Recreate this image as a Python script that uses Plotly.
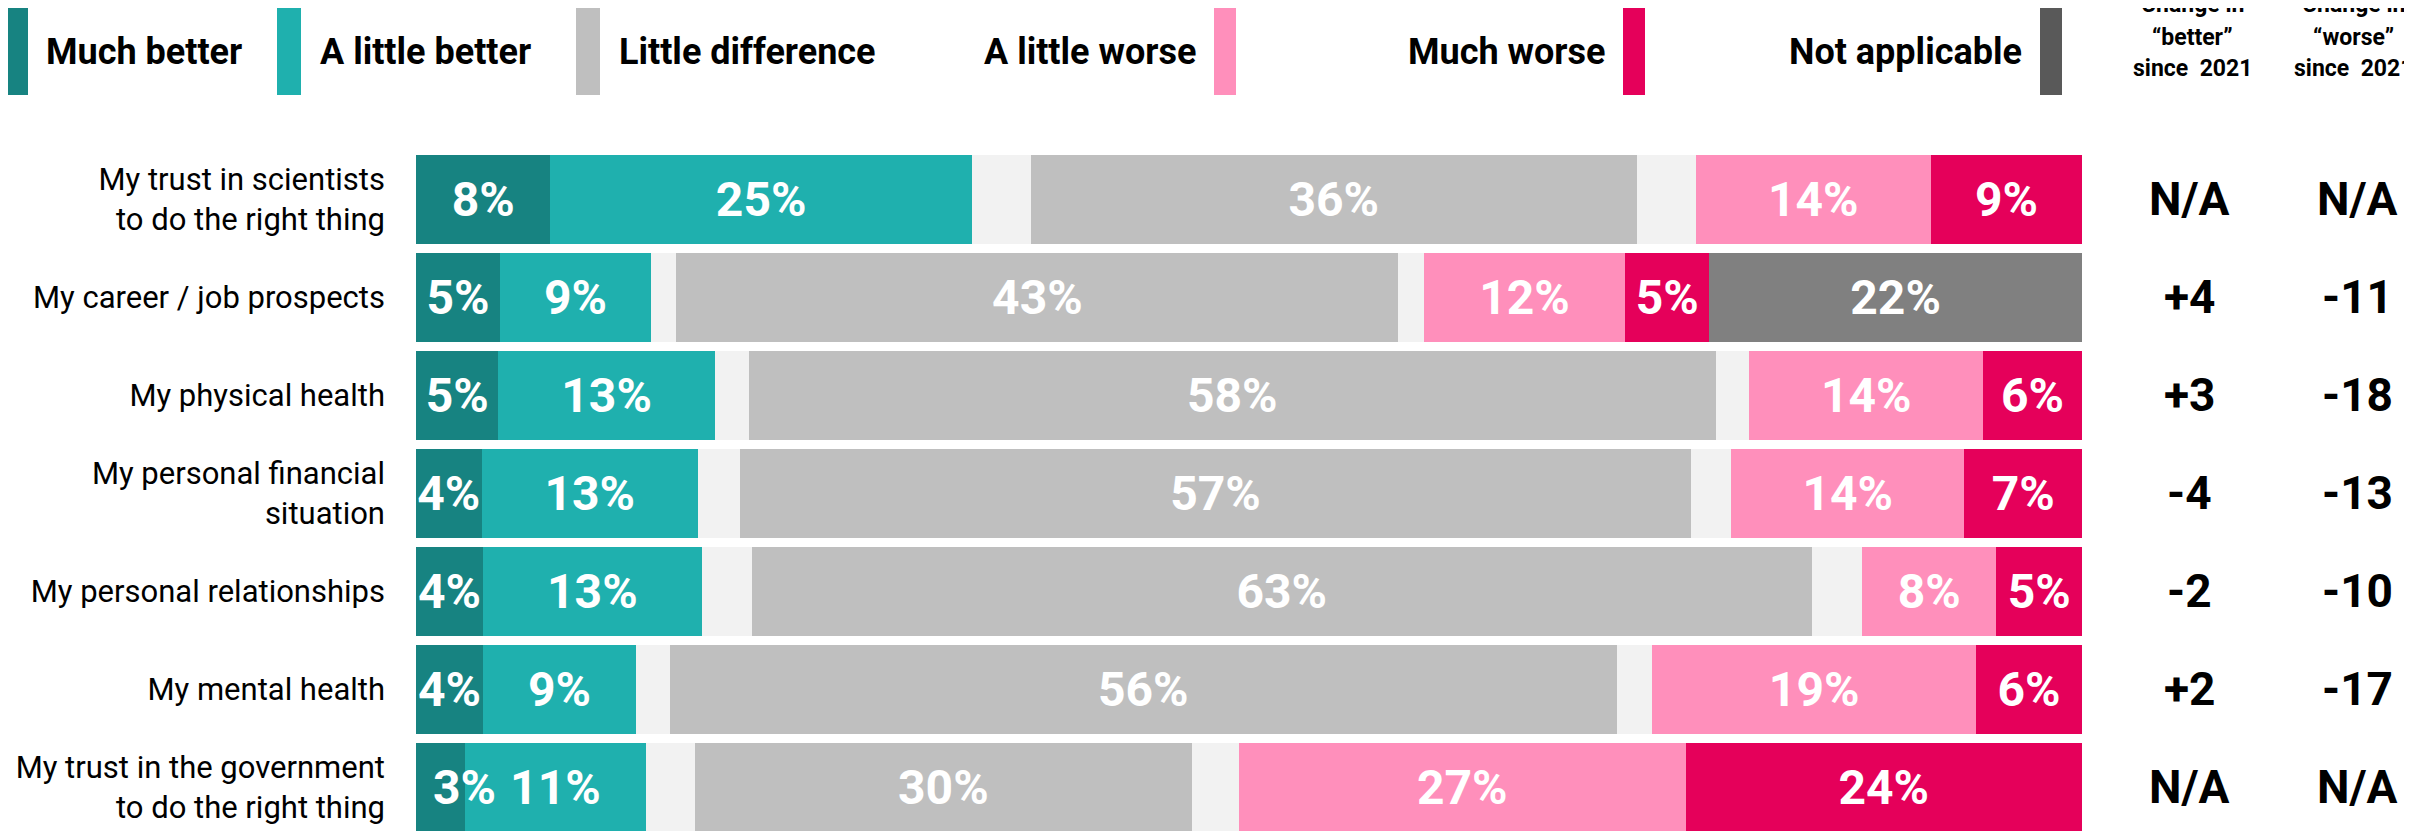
import plotly.graph_objects as go

# ---------------- data ----------------
categories = [
    "My trust in scientists<br>to do the right thing",
    "My career / job prospects",
    "My physical health",
    "My personal financial<br>situation",
    "My personal relationships",
    "My mental health",
    "My trust in the government<br>to do the right thing",
]
much_better    = [8.0, 5.0, 4.9, 3.9, 4.0, 4.0, 2.9]
little_better  = [25.1, 9.0, 12.9, 12.9, 13.0, 9.1, 10.8]
spacer_better  = [3.5, 1.5, 2.0, 2.5, 3.0, 2.0, 2.9]
little_diff    = [36.1, 43.0, 57.6, 56.6, 63.1, 56.4, 29.6]
spacer_worse   = [3.5, 1.5, 2.0, 2.4, 3.0, 2.1, 2.8]
little_worse   = [14.0, 12.0, 13.9, 13.9, 8.0, 19.3, 26.6]
much_worse     = [9.0, 5.0, 5.9, 7.0, 5.1, 6.3, 23.6]
not_applicable = [None, 22.2, None, None, None, None, None]
change_better  = [None, 4, 3, -4, -2, 2, None]
change_worse   = [None, -11, -18, -13, -10, -17, None]

legend_names = ["Much better", "A little better", "Little difference",
                "A little worse", "Much worse", "Not applicable"]

# ---------------- styles ----------------
C_MB, C_LB, C_LD, C_GAP = "#178381", "#1FB0AE", "#BFBFBF", "#F2F2F2"
C_LW, C_MW, C_NA, C_NA_LEG = "#FF8FBB", "#E5005A", "#808080", "#595959"
FONT = "Roboto, Arial, sans-serif"
BAR_FONT = dict(family=FONT, size=48, color="white", weight="bold")

W, H = 2412, 831
PAGE_OFF = 8                      # default body margin of the html page
PL, PT = 416, 150                 # plot area top-left in page pixels
PW, PH = 1666, 681
L, T = PL - PAGE_OFF, PT - PAGE_OFF
R = W - L - PW
B = H - T - PH
ROW_PX = 98.0
XMAX = 99.2
MIN_FIT = 3.5                     # narrower segments get their label as an annotation


def px_x(p):
    return (p - PL) / PW


def px_y(p):
    return 1 - (p - PT) / PH


def labels(vals, min_fit=0):
    return [f"{v:.0f}%" if (v and v >= min_fit) else "" for v in vals]


fig = go.Figure()
series = [
    (much_better, C_MB, True),
    (little_better, C_LB, True),
    (spacer_better, C_GAP, False),
    (little_diff, C_LD, True),
    (spacer_worse, C_GAP, False),
    (little_worse, C_LW, True),
    (much_worse, C_MW, True),
    (not_applicable, C_NA, True),
]
for k, (vals, col, show) in enumerate(series):
    fig.add_trace(go.Bar(
        y=categories, x=vals, orientation="h",
        marker=dict(color=col, line=dict(width=0)),
        text=labels(vals, MIN_FIT if k == 0 else 0) if show else None,
        textposition="inside", insidetextanchor="middle", textangle=0,
        constraintext="none", insidetextfont=BAR_FONT,
        hoverinfo="skip", showlegend=False,
    ))

annotations = []
# labels of the narrowest first segments, centred on the segment end
for i, v in enumerate(much_better):
    if v < MIN_FIT:
        annotations.append(dict(x=v, xref="x", y=i, yref="y", text=f"{v:.0f}%",
                                showarrow=False, xanchor="center", yanchor="middle",
                                font=BAR_FONT))

# change columns
COL_X = [2189, 2357]
for colx, vals in zip(COL_X, [change_better, change_worse]):
    for i, v in enumerate(vals):
        txt = "N/A" if v is None else f"{v:+d}"
        annotations.append(dict(
            x=px_x(colx), xref="paper", y=i, yref="y", text=txt, showarrow=False,
            xanchor="center", yanchor="middle",
            font=dict(family=FONT, size=46, color="black", weight="bold")))

# column headers
HEAD_X = [2192, 2353]
heads = [["Change in", "\u201cbetter\u201d", "since\u00a0 2021"],
         ["Change in", "\u201cworse\u201d", "since\u00a0 2021"]]
for hx, lines in zip(HEAD_X, heads):
    for j, line in enumerate(lines):
        annotations.append(dict(
            x=px_x(hx), xref="paper", y=px_y(5 + 32 * j), yref="paper", text=line,
            showarrow=False, xanchor="center", yanchor="middle",
            font=dict(family=FONT, size=23, color="black", weight="bold")))

# custom legend
legend_layout = [
    # (bar x0, bar x1, text x, text anchor) in page pixels
    (4, 28, 44, "left"),
    (277, 301, 318, "left"),
    (576, 600, 617, "left"),
    (1214, 1236, 1198, "right"),
    (1623, 1645, 1607, "right"),
    (2040, 2062, 2024, "right"),
]
legend_colors = [C_MB, C_LB, C_LD, C_LW, C_MW, C_NA_LEG]
shapes = []
for name, colr, (x0, x1, tx, anc) in zip(legend_names, legend_colors, legend_layout):
    shapes.append(dict(type="rect", xref="paper", yref="paper",
                       x0=px_x(x0), x1=px_x(x1), y0=px_y(95), y1=px_y(5),
                       fillcolor=colr, line=dict(width=0), layer="above"))
    annotations.append(dict(
        x=px_x(tx), xref="paper", y=px_y(52), yref="paper", text=name,
        showarrow=False, xanchor=anc, yanchor="middle",
        font=dict(family=FONT, size=36, color="black", weight="bold")))

fig.update_layout(
    barmode="stack", bargap=1 - 89 / ROW_PX,
    width=W, height=H, autosize=False,
    margin=dict(l=L, r=R, t=T, b=B, pad=0),
    paper_bgcolor="white", plot_bgcolor="white",
    xaxis=dict(range=[0, XMAX], visible=False, fixedrange=True),
    yaxis=dict(type="category", range=[-0.5 + PH / ROW_PX, -0.5],
               showgrid=False, zeroline=False, showline=False,
               ticks="", ticklabelstandoff=30,
               tickfont=dict(family=FONT, size=31, color="black")),
    annotations=annotations, shapes=shapes, showlegend=False,
)

fig.write_html("out.html")
